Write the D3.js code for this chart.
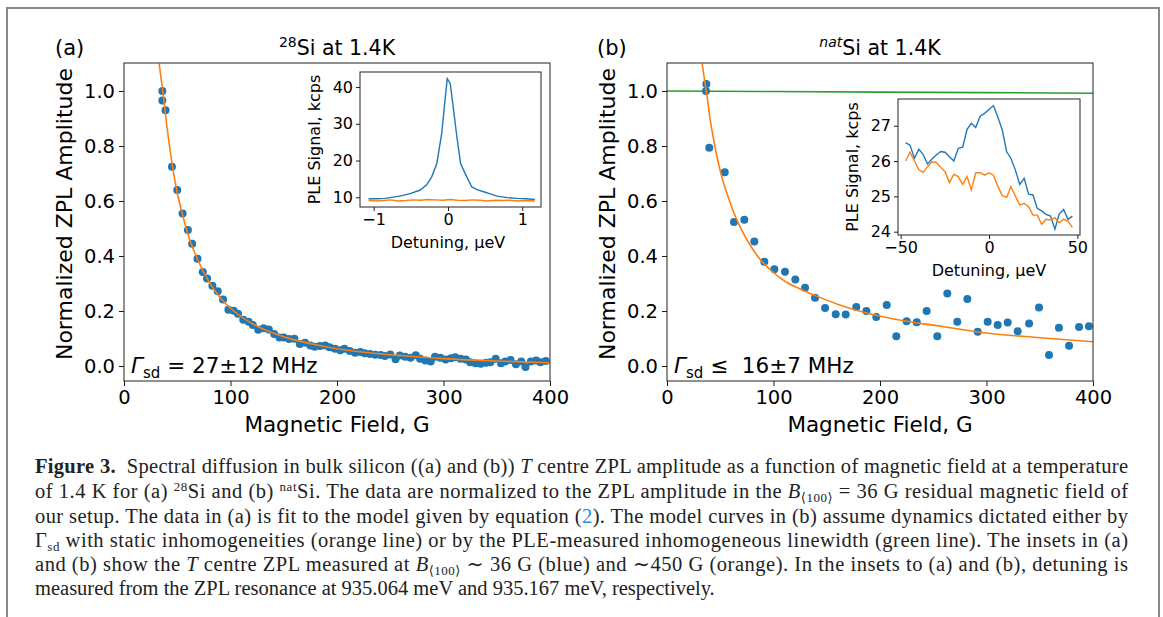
<!DOCTYPE html>
<html>
<head>
<meta charset="utf-8">
<script src="https://cdn.jsdelivr.net/npm/d3@7"></script>
<style>
  body { margin: 0; background: #fff; }
  svg text { font-family: "DejaVu Sans", sans-serif; white-space: pre; }
  .cap { font-family: "Liberation Serif", "DejaVu Serif", serif; font-size: 20.5px; fill: #222; }
</style>
</head>
<body>
<div id="chart"></div>
<script>
// ---- panel (a): 28Si, ZPL amplitude vs magnetic field
const fieldA = [36, 36, 39, 45, 50, 55, 60, 64, 69, 74, 78, 83, 88, 93, 98, 103, 107, 112, 117, 121,
  126, 131, 136, 141, 146, 150, 155, 160, 165, 170, 175, 179, 184, 189, 193, 198, 203, 207, 212, 217,
  222, 226, 231, 236, 241, 245, 250, 255, 259, 264, 269, 274, 278, 283, 288, 292, 297, 302, 307, 311,
  316, 321, 325, 330, 335, 340, 344, 349, 354, 358, 363, 368, 373, 377, 382, 387, 391, 396];
const ampA = [1.00, 0.965, 0.93, 0.725, 0.64, 0.555, 0.495, 0.445, 0.39, 0.342, 0.318, 0.292, 0.272, 0.242, 0.205, 0.201, 0.19, 0.168, 0.161, 0.149,
  0.132, 0.137, 0.133, 0.116, 0.104, 0.104, 0.098, 0.099, 0.08, 0.085, 0.075, 0.07, 0.073, 0.075, 0.068, 0.063, 0.057, 0.063, 0.055, 0.048,
  0.051, 0.046, 0.044, 0.041, 0.040, 0.036, 0.042, 0.025, 0.038, 0.034, 0.030, 0.039, 0.026, 0.020, 0.016, 0.034, 0.030, 0.024, 0.028, 0.032,
  0.026, 0.024, 0.014, 0.010, 0.008, 0.012, 0.014, 0.026, 0.010, 0.016, 0.022, 0.006, 0.016, -0.004, 0.016, 0.020, 0.014, 0.018];
const fitFieldA = [33, 35, 37, 40, 45, 50, 55, 60, 70, 80, 90, 100, 120, 140, 160, 180, 200, 230, 260, 300, 350, 400];
const fitAmpA = [1.10, 1.04, 0.98, 0.88, 0.74, 0.63, 0.55, 0.48, 0.38, 0.305, 0.25, 0.21, 0.155, 0.12, 0.095, 0.077, 0.063, 0.048, 0.038, 0.027, 0.018, 0.012];

// ---- panel (b): natSi
const fieldB = [37, 36.6, 39.7, 54.2, 62.9, 72.6, 82, 91.4, 100.8, 110.8, 120.5, 129.6, 139, 148.4, 158.4, 167.8, 177.7, 187.2, 196.5, 206.3,
  215.3, 225, 234.5, 243.8, 253.8, 263.2, 272.6, 282, 291.7, 301.1, 310.5, 319.9, 329.3, 340, 349.3, 358.7, 368, 377.5, 386.9, 396.2];
const ampB = [1.025, 1.0, 0.794, 0.705, 0.524, 0.532, 0.453, 0.379, 0.352, 0.343, 0.315, 0.285, 0.248, 0.211, 0.188, 0.187, 0.215, 0.2, 0.178, 0.222,
  0.108, 0.163, 0.159, 0.2, 0.108, 0.264, 0.161, 0.244, 0.125, 0.161, 0.149, 0.158, 0.126, 0.155, 0.213, 0.04, 0.139, 0.074, 0.142, 0.145];
const fitFieldB = [33, 36, 38, 40, 43, 47, 52, 57, 63, 70, 78, 87, 97, 110, 125, 140, 160, 190, 225, 260, 300, 350, 400];
const fitAmpB = [1.10, 1.02, 0.97, 0.91, 0.84, 0.76, 0.68, 0.62, 0.555, 0.495, 0.44, 0.39, 0.35, 0.31, 0.28, 0.255, 0.225, 0.19, 0.163, 0.143, 0.12, 0.103, 0.088];
const greenField = [0, 100, 200, 300, 400];
const greenAmp = [1.0, 0.998, 0.996, 0.994, 0.992];

// ---- inset (a): PLE scans, detuning in ueV
const detA = [-1.07, -0.95, -0.85, -0.78, -0.65, -0.51, -0.38, -0.29, -0.22, -0.15, -0.085, -0.04, -0.01, 0.03, 0.07, 0.12, 0.17, 0.23, 0.32, 0.40, 0.48, 0.57, 0.66, 0.80, 0.93, 1.05, 1.17];
const pleA36 = [9.6, 9.6, 9.7, 9.9, 10.3, 11.0, 11.9, 13.3, 15.5, 19.2, 27.3, 36.4, 42.3, 41.0, 34.6, 26.4, 19.2, 16.5, 12.8, 12.0, 11.5, 10.9, 10.3, 9.9, 9.7, 9.6, 9.4];
const detA450 = [-1.07, -0.97, -0.87, -0.77, -0.67, -0.57, -0.47, -0.37, -0.27, -0.17, -0.07, 0.03, 0.13, 0.23, 0.33, 0.43, 0.53, 0.63, 0.73, 0.83, 0.93, 1.03, 1.17];
const pleA450 = [9.2, 9.0, 9.1, 9.3, 9.0, 9.1, 9.3, 9.2, 9.4, 9.3, 9.2, 9.4, 9.2, 9.1, 9.3, 9.2, 9.0, 9.2, 9.1, 9.2, 9.0, 9.1, 9.0];

// ---- inset (b)
const detB = [-47.2, -44.7, -42.2, -39.7, -37.3, -34.8, -32.3, -29.8, -27.3, -24.9, -22.4, -19.9, -17.4, -14.9, -12.4, -10.0, -7.5, -5.0, -2.5, 0,
  2.5, 5.0, 7.5, 10.0, 12.4, 14.9, 17.4, 19.9, 22.4, 24.9, 27.3, 29.8, 32.3, 34.8, 37.3, 39.7, 42.2, 44.7, 47.2];
const pleB36 = [26.52, 26.45, 26.08, 26.33, 26.19, 25.92, 26.06, 26.17, 26.27, 26.25, 26.12, 26.0, 26.36, 26.39, 26.9, 27.07, 26.95, 27.27, 27.35, 27.46,
  27.57, 27.25, 26.88, 26.26, 26.08, 25.75, 25.34, 25.51, 25.06, 25.04, 24.66, 24.59, 24.49, 24.44, 24.07, 24.5, 24.63, 24.35, 24.44];
const pleB450 = [26.0, 26.25, 26.0, 25.75, 25.68, 25.84, 25.98, 25.96, 25.82, 25.7, 25.39, 25.62, 25.56, 25.34, 25.56, 25.18, 25.67, 25.67, 25.6, 25.67,
  25.6, 25.29, 25.02, 24.97, 25.27, 25.01, 24.76, 24.8, 24.71, 24.47, 24.47, 24.21, 24.35, 24.33, 24.4, 24.25, 24.35, 24.3, 24.12];

const mainTicksX = [0, 100, 200, 300, 400];
const mainTicksY = [0.0, 0.2, 0.4, 0.6, 0.8, 1.0];

const blue = "#1f77b4", orange = "#ff7f0e", green = "#2ca02c";

const svg = d3.select("#chart").append("svg")
  .attr("width", 1163).attr("height", 617);

// figure frame
svg.append("rect").attr("x", 7).attr("y", 8).attr("width", 1152).attr("height", 640)
  .attr("fill", "none").attr("stroke", "#888").attr("stroke-width", 2);

const zip = (xs, ys) => xs.map((x, i) => [x, ys[i]]);

const drawAxes = (g, x, y, opts) => {
  const ax = g.append("g").attr("transform", `translate(0,${y.range()[0]})`)
    .call(d3.axisBottom(x).tickValues(opts.xticks).tickFormat(opts.xfmt).tickSizeOuter(0).tickSize(opts.tick).tickPadding(opts.pad));
  const ay = g.append("g").attr("transform", `translate(${x.range()[0]},0)`)
    .call(d3.axisLeft(y).tickValues(opts.yticks).tickFormat(opts.yfmt).tickSizeOuter(0).tickSize(opts.tick).tickPadding(opts.pad));
  [ax, ay].forEach(a => {
    a.select(".domain").remove();
    a.selectAll("text").attr("font-size", opts.fs).attr("fill", "#000")
      .style("font-family", "DejaVu Sans");
    a.selectAll("line").attr("stroke", "#000").attr("stroke-width", 0.9);
  });
  g.append("rect")
    .attr("x", x.range()[0]).attr("y", y.range()[1])
    .attr("width", x.range()[1] - x.range()[0]).attr("height", y.range()[0] - y.range()[1])
    .attr("fill", "none").attr("stroke", "#222").attr("stroke-width", 1);
};

const minus = v => String(v).replace("-", "\u2212");

const panel = (cfg) => {
  const g = svg.append("g");
  const x = d3.scaleLinear().domain([0, 400]).range([cfg.x0, cfg.x1]);
  const y = d3.scaleLinear().domain([-0.0545, 1.1018]).range([381, 63]);
  const clipId = "clip" + cfg.id;
  svg.append("clipPath").attr("id", clipId).append("rect")
    .attr("x", cfg.x0).attr("y", 63).attr("width", cfg.x1 - cfg.x0).attr("height", 318);
  const plot = g.append("g").attr("clip-path", `url(#${clipId})`);
  const line = d3.line().x(d => x(d[0])).y(d => y(d[1])).curve(d3.curveMonotoneX);

  if (cfg.green) {
    plot.append("path").datum(zip(greenField, greenAmp))
      .attr("d", line).attr("fill", "none").attr("stroke", green).attr("stroke-width", 1.6);
  }
  plot.selectAll("circle.pt").data(zip(cfg.fx, cfg.fy)).join("circle")
    .attr("class", "pt").attr("cx", d => x(d[0])).attr("cy", d => y(d[1])).attr("r", 4)
    .attr("fill", blue);
  plot.append("path").datum(zip(cfg.fitx, cfg.fity))
    .attr("d", line).attr("fill", "none").attr("stroke", orange).attr("stroke-width", 1.6);

  drawAxes(g, x, y, { xticks: mainTicksX, yticks: mainTicksY, xfmt: d3.format("d"), yfmt: d3.format(".1f"), fs: 19.5, tick: 5, pad: 4 });

  g.append("text").attr("x", (cfg.x0 + cfg.x1) / 2).attr("y", 432).attr("text-anchor", "middle")
    .attr("font-size", 21.5).text("Magnetic Field, G");
  g.append("text").attr("transform", `translate(${cfg.x0 - 52},${(63 + 381) / 2 - 8}) rotate(-90)`)
    .attr("text-anchor", "middle").attr("font-size", 22).text("Normalized ZPL Amplitude");
  g.append("text").attr("x", cfg.labX).attr("y", 55).attr("font-size", 21).text(cfg.lab);

  const t = g.append("text").attr("x", (cfg.x0 + cfg.x1) / 2).attr("y", 55).attr("text-anchor", "middle").attr("font-size", 20.5);
  t.append("tspan").attr("dy", -8).attr("font-size", 14).attr("font-style", cfg.supItalic ? "italic" : "normal").text(cfg.sup);
  t.append("tspan").attr("dy", 8).text("Si at 1.4K");

  const gt = g.append("text").attr("x", cfg.x0 + 7).attr("y", 373).attr("font-size", 21.5);
  gt.append("tspan").attr("font-style", "italic").text("\u0393");
  gt.append("tspan").attr("dy", 5).attr("font-size", 15).text("sd");
  gt.append("tspan").attr("dy", -5).text(cfg.gamma);
  return g;
};

const inset = (cfg) => {
  const g = svg.append("g");
  const x = d3.scaleLinear().domain(cfg.xd).range([cfg.x0, cfg.x1]);
  const y = d3.scaleLinear().domain(cfg.yd).range([cfg.y1, cfg.y0]);
  g.append("rect").attr("x", cfg.x0 - 62).attr("y", cfg.y0 - 2).attr("width", cfg.x1 - cfg.x0 + 66)
    .attr("height", cfg.y1 - cfg.y0 + 56).attr("fill", "#fff");
  const line = d3.line().x(d => x(d[0])).y(d => y(d[1]));
  g.append("path").datum(zip(cfg.bx, cfg.by)).attr("d", line).attr("fill", "none").attr("stroke", blue).attr("stroke-width", 1.4);
  g.append("path").datum(zip(cfg.ox, cfg.oy)).attr("d", line).attr("fill", "none").attr("stroke", orange).attr("stroke-width", 1.4);
  drawAxes(g, x, y, { xticks: cfg.xticks, yticks: cfg.yticks, xfmt: minus, yfmt: d3.format("d"), fs: 16, tick: 4, pad: 3 });
  g.append("text").attr("x", x(0)).attr("y", cfg.y1 + 41).attr("text-anchor", "middle")
    .attr("font-size", 16).text("Detuning, \u00b5eV");
  g.append("text").attr("transform", `translate(${cfg.x0 - cfg.ylabOff},${(cfg.y0 + cfg.y1) / 2}) rotate(-90)`)
    .attr("text-anchor", "middle").attr("font-size", 16).text("PLE Signal, kcps");
};

panel({ id: "a", x0: 124, x1: 550, fx: fieldA, fy: ampA, fitx: fitFieldA, fity: fitAmpA,
  lab: "(a)", labX: 55, sup: "28", supItalic: false, gamma: " = 27\u00b112 MHz", green: false });
panel({ id: "b", x0: 667, x1: 1093, fx: fieldB, fy: ampB, fitx: fitFieldB, fity: fitAmpB,
  lab: "(b)", labX: 597, sup: "nat", supItalic: true, gamma: " \u2264  16\u00b17 MHz", green: true });

inset({ x0: 360, x1: 541, y0: 72, y1: 207, xd: [-1.184, 1.252], yd: [7.35, 44.1],
  bx: detA, by: pleA36, ox: detA450, oy: pleA450, xticks: [-1, 0, 1], yticks: [10, 20, 30, 40], ylabOff: 40 });
inset({ x0: 898, x1: 1080, y0: 99, y1: 235, xd: [-51.5, 51.5], yd: [23.906, 27.756],
  bx: detB, by: pleB36, ox: detB, oy: pleB450, xticks: [-50, 0, 50], yticks: [24, 25, 26, 27], ylabOff: 40 });

// ---- caption
const capX = 35, capW = 1093;
const lines = [
  { y: 473, full: true, parts: [["Figure 3.", "b"], ["  Spectral diffusion in bulk silicon ((a) and (b)) "], ["T", "i"], [" centre ZPL amplitude as a function of magnetic field at a temperature"]] },
  { y: 498, full: true, parts: [["of 1.4 K for (a) "], ["28", "sup"], ["Si and (b) "], ["nat", "sup"], ["Si. The data are normalized to the ZPL amplitude in the "], ["B", "i"], ["\u27e8100\u27e9", "sub"], [" = 36 G residual magnetic field of"]] },
  { y: 523, full: true, parts: [["our setup. The data in (a) is fit to the model given by equation ("], ["2", "link"], ["). The model curves in (b) assume dynamics dictated either by"]] },
  { y: 547, full: true, parts: [["\u0393"], ["sd", "sub"], [" with static inhomogeneities (orange line) or by the PLE-measured inhomogeneous linewidth (green line). The insets in (a)"]] },
  { y: 571, full: true, parts: [["and (b) show the "], ["T", "i"], [" centre ZPL measured at "], ["B", "i"], ["\u27e8100\u27e9", "sub"], [" \u223c 36 G (blue) and \u223c450 G (orange). In the insets to (a) and (b), detuning is"]] },
  { y: 595, full: false, parts: [["measured from the ZPL resonance at 935.064 meV and 935.167 meV, respectively."]] }
];
lines.forEach(l => {
  const t = svg.append("text").attr("class", "cap").attr("x", capX).attr("y", l.y);
  if (l.full) t.attr("textLength", capW).attr("lengthAdjust", "spacing");
  let shift = 0;
  l.parts.forEach(([s, k]) => {
    const sp = t.append("tspan").text(s);
    let dy = 0;
    if (k === "b") sp.attr("font-weight", "bold");
    if (k === "i") sp.attr("font-style", "italic");
    if (k === "link") sp.attr("fill", "#1a8fd8");
    if (k === "sup") { dy = -7; sp.attr("font-size", 13); }
    if (k === "sub") { dy = 4; sp.attr("font-size", 13); }
    sp.attr("dy", dy - shift);
    shift = dy;
  });
});
</script>
</body>
</html>
